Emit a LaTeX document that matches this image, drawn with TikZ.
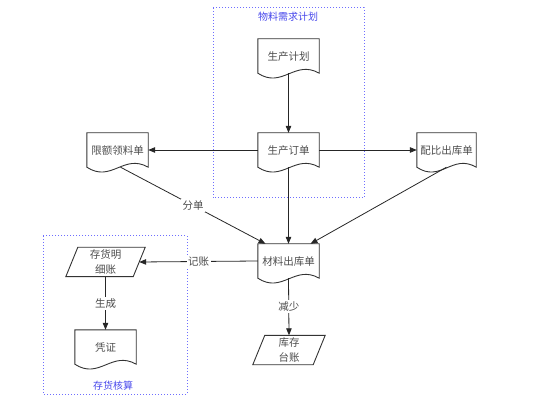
\documentclass[tikz,border=0pt]{standalone}
\usepackage{fontspec}
\newfontfamily\cjk{Noto Sans CJK SC}
\usetikzlibrary{calc,arrows.meta}
\definecolor{grpblue}{RGB}{110,110,255}
\definecolor{ttlblue}{RGB}{70,70,235}
\newcommand\mydoc[1]{\draw[shapeline] (#1.south west) -- (#1.north west) -- (#1.north east) -- (#1.south east)
  .. controls ($(#1.south west)!0.6!(#1.south east)+(0,-14)$) and ($(#1.south west)!0.4!(#1.south east)+(0,16)$) .. (#1.south west) -- cycle;}
\newcommand\mypar[1]{\draw[shapeline] ($(#1.north west)+(6,0)$) -- ($(#1.north east)+(6,0)$) -- ($(#1.south east)+(-6,0)$) -- ($(#1.south west)+(-6,0)$) -- cycle;}
\begin{document}
\begin{tikzpicture}[x=1pt,y=-1pt,
  txt/.style={font=\cjk\fontsize{10.5}{15}\selectfont, text=black!70, align=center},
  docbox/.style={txt, minimum width=#1, minimum height=34pt, inner sep=0pt, anchor=center, text depth=0pt},
  parbox/.style={txt, minimum width=#1, minimum height=29pt, inner sep=0pt},
  shapeline/.style={draw=black!80, line width=0.9pt},
  conn/.style={draw=black!85, line width=0.8pt},
  arr/.style={conn, -{Triangle[length=7pt,width=5.5pt]}},
  lbl/.style={txt, fill=white, inner sep=1.5pt},
  grp/.style={draw=grpblue, line width=1pt, dash pattern=on 1pt off 2pt},
  ttl/.style={font=\cjk\fontsize{10}{12}\selectfont, text=ttlblue}
]
\useasboundingbox (0,0) rectangle (547,401);

% group boxes
\draw[grp] (213,8) rectangle (364,198);
\node[ttl] (t1) at (288,17) {物料需求计划};
\draw[grp] (43,236) rectangle (187,394);
\node[ttl] (t2) at (113,386) {存货核算};

% document nodes
\node[docbox=61pt] (jihua) at (288.5,56) {生产计划};
\node[docbox=61pt] (dingdan) at (288.5,150) {生产订单};
\node[docbox=61pt] (xiane) at (117.5,150) {限额领料单};
\node[docbox=59pt] (peibi) at (446.5,150) {配比出库单};
\node[docbox=61pt] (chuku) at (288.5,261) {材料出库单};
\node[docbox=61pt] (pingzheng) at (105.5,347) {凭证};
\foreach \n in {jihua,dingdan,xiane,peibi,chuku,pingzheng}{\mydoc{\n}}

% parallelograms
\node[parbox=67pt] (mingxi) at (105.5,262) {存货明\\细账};
\node[parbox=60pt] (taizhang) at (289,350) {库存\\台账};
\mypar{mingxi}
\mypar{taizhang}

% connectors
\draw[arr] (jihua.south) -- (dingdan.north);
\draw[arr] (dingdan.west) -- (xiane.east);
\draw[arr] (dingdan.east) -- (peibi.west);
\draw[arr] (dingdan.south) -- (chuku.north);
\draw[arr] ($(xiane.south)+(3,0)$) -- node[lbl] (fendan) {分单} ($(chuku.north)+(-23,0)$);
\draw[arr] (peibi.south) -- ($(chuku.north)+(22,0)$);
\draw[arr] (chuku.west) -- node[lbl, pos=0.5] (jizhang) {记账} (mingxi.east);
\draw[arr] (mingxi.south) -- node[lbl] (shengcheng) {生成} (pingzheng.north);
\draw[arr] (chuku.south) -- node[lbl] (jianshao) {减少} (taizhang.north);
\end{tikzpicture}
\end{document}
